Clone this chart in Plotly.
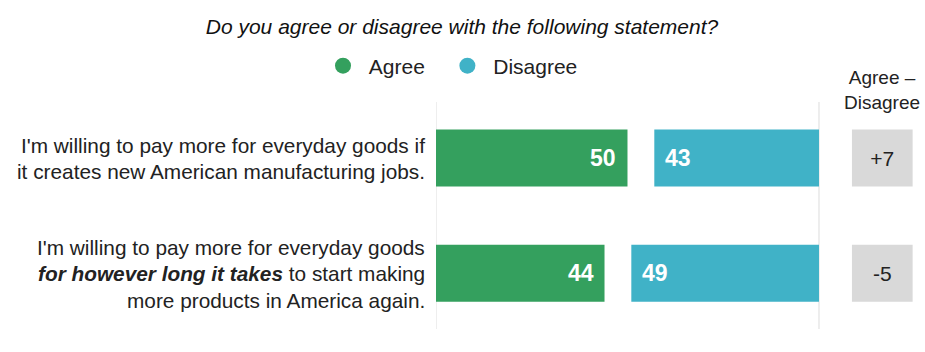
import plotly.graph_objects as go

# ---- data ----
statements = [
    "I'm willing to pay more for everyday goods if<br>it creates new American manufacturing jobs.",
    "I'm willing to pay more for everyday goods<br><b><i>for however long it takes</i></b> to start making<br>more products in America again.",
]
agree = [50, 44]
disagree = [43, 49]
series_names = ["Agree", "Disagree"]
title_text = "Do you agree or disagree with the following statement?"
diff_header = "Agree –<br>Disagree"

# ---- styles ----
GREEN = "#34A05E"
TEAL = "#40B2C7"
GRAY_BOX = "#D9D9D9"
TEXT = "#222222"
FONT = "Liberation Sans, Arial, sans-serif"
FULL = 100
X_MAX = 127.68
DIFF_START = 108.6
DIFF_WIDTH = 15.85
BAR_W = 0.494
NBSP = "\u00a0"

diffs = [a - d for a, d in zip(agree, disagree)]
diff_text = [f"+{v}" if v > 0 else f"{v}" for v in diffs]
ykeys = list(range(len(statements)))

fig = go.Figure()
fig.add_trace(go.Bar(y=ykeys, x=agree, base=[0] * len(agree), orientation="h",
                     marker=dict(color=GREEN, line=dict(width=0)), width=BAR_W,
                     showlegend=False, hoverinfo="skip"))
fig.add_trace(go.Bar(y=ykeys, x=disagree, base=[FULL - d for d in disagree], orientation="h",
                     marker=dict(color=TEAL, line=dict(width=0)), width=BAR_W,
                     showlegend=False, hoverinfo="skip"))
fig.add_trace(go.Bar(y=ykeys, x=[DIFF_WIDTH] * len(diffs), base=[DIFF_START] * len(diffs),
                     orientation="h", marker=dict(color=GRAY_BOX, line=dict(width=0)),
                     width=BAR_W, text=diff_text, textposition="inside",
                     insidetextanchor="middle", textangle=0, constraintext="none",
                     textfont=dict(family=FONT, size=21, color=TEXT),
                     showlegend=False, hoverinfo="skip"))
# legend entries (padding with non-breaking spaces for spacing)
for name, col in zip(series_names, [GREEN, TEAL]):
    fig.add_trace(go.Scatter(x=[None], y=[None], mode="markers",
                             name=NBSP + name + NBSP * 3,
                             marker=dict(symbol="circle", size=19, color=col)))

annotations = []
# statement labels, one annotation per line
for i, lab in enumerate(statements):
    lines = lab.split("<br>")
    n = len(lines)
    for j, ln in enumerate(lines):
        annotations.append(dict(x=0, xref="paper", y=i, yref="y", text=ln,
                                xanchor="right", yanchor="middle", xshift=-9,
                                yshift=((n - 1) / 2 - j) * 26.5 - 0.5, showarrow=False,
                                font=dict(family=FONT, size=20.8, color=TEXT)))
# value labels
for i in ykeys:
    annotations.append(dict(x=agree[i], y=i, text=f"<b>{agree[i]}</b>", xanchor="right",
                            xshift=-9, showarrow=False,
                            font=dict(family=FONT, size=23, color="white")))
    annotations.append(dict(x=FULL - disagree[i], y=i, text=f"<b>{disagree[i]}</b>",
                            xanchor="left", xshift=9, showarrow=False,
                            font=dict(family=FONT, size=23, color="white")))
annotations.append(dict(x=DIFF_START + DIFF_WIDTH / 2, y=1.052, yref="paper", text=diff_header,
                        xanchor="center", yanchor="middle", showarrow=False,
                        font=dict(family=FONT, size=19, color=TEXT)))

shapes = [dict(type="line", x0=v, x1=v, xref="x", y0=0, y1=1, yref="paper",
               line=dict(color="#DDDDDD", width=1), layer="below") for v in (0, FULL)]

fig.update_layout(
    width=925, height=352,
    margin=dict(l=436, r=0, t=102, b=23, autoexpand=False),
    paper_bgcolor="white", plot_bgcolor="white",
    barmode="overlay",
    font=dict(family=FONT, color=TEXT),
    title=dict(text=f"<i>{title_text}</i>", x=462 / 925, xanchor="center",
               y=1 - 27 / 352, yanchor="middle", yref="container",
               font=dict(family=FONT, size=21, color="#111111")),
    legend=dict(orientation="h", x=(323 - 436) / 489, xref="paper", xanchor="left",
                y=(329 - 66) / 227, yanchor="middle", font=dict(family=FONT, size=21, color=TEXT),
                itemsizing="trace"),
    xaxis=dict(range=[0, X_MAX], visible=False, fixedrange=True),
    yaxis=dict(range=[1.483, -0.486], visible=False, fixedrange=True),
    annotations=annotations,
    shapes=shapes,
)

fig.write_html("out.html")
